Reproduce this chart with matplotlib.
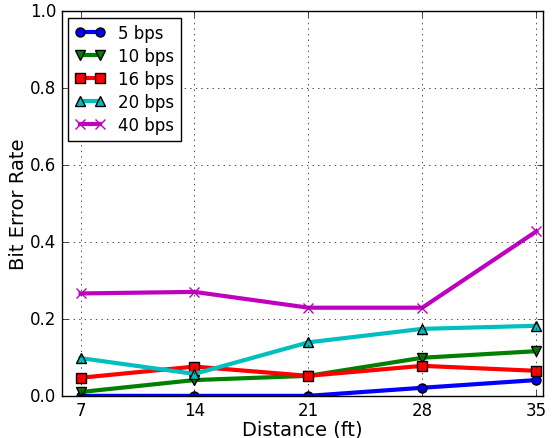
import matplotlib
matplotlib.use("Agg")
import matplotlib.pyplot as plt

distance = [7, 14, 21, 28, 35]
ber_5 = [0.0, 0.0, 0.0, 0.021, 0.041]
ber_10 = [0.01, 0.041, 0.052, 0.099, 0.116]
ber_16 = [0.047, 0.076, 0.052, 0.078, 0.065]
ber_20 = [0.098, 0.057, 0.139, 0.174, 0.182]
ber_40 = [0.266, 0.27, 0.229, 0.229, 0.427]
labels = ["5 bps", "10 bps", "16 bps", "20 bps", "40 bps"]


def main():
    plt.style.use("classic")
    fig, ax = plt.subplots(figsize=(5.56, 4.39), dpi=100)
    fig.patch.set_facecolor("white")

    series = [ber_5, ber_10, ber_16, ber_20, ber_40]
    styles = [("b", "o"), ("g", "v"), ("r", "s"), ("c", "^"), ("m", "x")]
    for values, label, (color, marker) in zip(series, labels, styles):
        ax.plot(distance, values, color=color, marker=marker, lw=3,
                ms=6.5, mew=1,
                mec=color if marker == "x" else "k", label=label)

    ax.set_xlim(5.84, 35.43)
    ax.set_ylim(0, 1.0)
    ax.set_xticks(distance)
    ax.set_yticks([0.0, 0.2, 0.4, 0.6, 0.8, 1.0])
    ax.tick_params(labelsize=12)
    ax.grid(True, color="k", linestyle=":")
    ax.set_xlabel("Distance (ft)", fontsize=14, labelpad=0)
    ax.set_ylabel("Bit Error Rate", fontsize=14, labelpad=1)
    ax.legend(loc="upper left", fontsize=12, numpoints=2,
              labelspacing=0.3, handlelength=1.8, borderaxespad=0.4)

    fig.subplots_adjust(left=0.111, right=0.977, top=0.973, bottom=0.096)
    fig.savefig("out.png", dpi=100, facecolor="white")


if __name__ == "__main__":
    main()
